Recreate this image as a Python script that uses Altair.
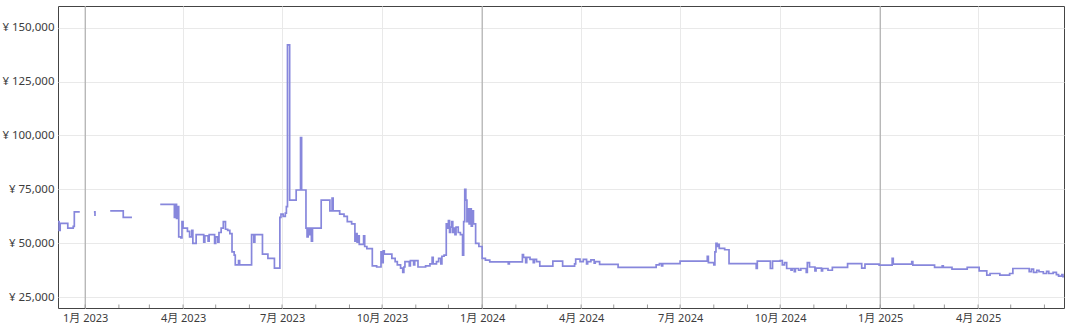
import altair as alt
import pandas as pd

# ---- price history (None marks a gap in the data) ----
dates = [
    "2022-12-07", "2022-12-08", "2022-12-09", "2022-12-16", "2022-12-21", "2022-12-22", "2022-12-27", "2022-12-28",
    "2023-01-09", "2023-01-10", "2023-01-11",
    "2023-01-24", "2023-02-05", "2023-02-13", "2023-02-14",
    "2023-03-11", "2023-03-24", "2023-03-25", "2023-03-26", "2023-03-27", "2023-03-28", "2023-03-30", "2023-03-31",
    "2023-04-01", "2023-04-05", "2023-04-07", "2023-04-09", "2023-04-10", "2023-04-13", "2023-04-20", "2023-04-21",
    "2023-04-24", "2023-04-25", "2023-04-30", "2023-05-01", "2023-05-03", "2023-05-04", "2023-05-06", "2023-05-08",
    "2023-05-10", "2023-05-12", "2023-05-14", "2023-05-16", "2023-05-18", "2023-05-19", "2023-05-22", "2023-05-23",
    "2023-06-03", "2023-06-05", "2023-06-06", "2023-06-13", "2023-06-18", "2023-06-24", "2023-06-29", "2023-06-30",
    "2023-07-02", "2023-07-04", "2023-07-05", "2023-07-06", "2023-07-08", "2023-07-14",
    "2023-07-18", "2023-07-19", "2023-07-23", "2023-07-24", "2023-07-25", "2023-07-26", "2023-07-27", "2023-07-28",
    "2023-07-29", "2023-08-06", "2023-08-14", "2023-08-16", "2023-08-17", "2023-08-23", "2023-08-27", "2023-08-30",
    "2023-09-03", "2023-09-06", "2023-09-07", "2023-09-08", "2023-09-09", "2023-09-10", "2023-09-14", "2023-09-15",
    "2023-09-17", "2023-09-22", "2023-09-26", "2023-09-30", "2023-10-01", "2023-10-02", "2023-10-03", "2023-10-10",
    "2023-10-13", "2023-10-15", "2023-10-18", "2023-10-20", "2023-10-21", "2023-10-22", "2023-10-26", "2023-10-27",
    "2023-10-30", "2023-10-31", "2023-11-03", "2023-11-10", "2023-11-14", "2023-11-16", "2023-11-17", "2023-11-20",
    "2023-11-22", "2023-11-24", "2023-11-25", "2023-11-27", "2023-11-29", "2023-11-30", "2023-12-01", "2023-12-02",
    "2023-12-03", "2023-12-04", "2023-12-05", "2023-12-06", "2023-12-07", "2023-12-08", "2023-12-10", "2023-12-12",
    "2023-12-14", "2023-12-15", "2023-12-16", "2023-12-17", "2023-12-18", "2023-12-19", "2023-12-20", "2023-12-21",
    "2023-12-22", "2023-12-23", "2023-12-24", "2023-12-26", "2023-12-29",
    "2024-01-01", "2024-01-04", "2024-01-08", "2024-01-25", "2024-01-26", "2024-02-07", "2024-02-08", "2024-02-10",
    "2024-02-11", "2024-02-14", "2024-02-17", "2024-02-18", "2024-02-20", "2024-02-23", "2024-03-06", "2024-03-15",
    "2024-03-26", "2024-03-27", "2024-03-31", "2024-04-03", "2024-04-06", "2024-04-07", "2024-04-10", "2024-04-13",
    "2024-04-14", "2024-04-18", "2024-05-05", "2024-06-09", "2024-06-12", "2024-06-14", "2024-06-15", "2024-07-01",
    "2024-07-26", "2024-07-27", "2024-08-01", "2024-08-02", "2024-08-03", "2024-08-04", "2024-08-05", "2024-08-06",
    "2024-08-11", "2024-08-15", "2024-09-09", "2024-09-10", "2024-09-22", "2024-09-24", "2024-10-01", "2024-10-03",
    "2024-10-05", "2024-10-07", "2024-10-11", "2024-10-12", "2024-10-14", "2024-10-15", "2024-10-18", "2024-10-20",
    "2024-10-25", "2024-10-26", "2024-10-28", "2024-11-02", "2024-11-03", "2024-11-08", "2024-11-09", "2024-11-14",
    "2024-11-18", "2024-12-02", "2024-12-15", "2024-12-18", "2024-12-31",
    "2025-01-12", "2025-01-13", "2025-01-30", "2025-01-31", "2025-02-20", "2025-02-27", "2025-02-28", "2025-03-08",
    "2025-03-22", "2025-04-02", "2025-04-09", "2025-04-12", "2025-04-21", "2025-04-30", "2025-05-03", "2025-05-18",
    "2025-05-20", "2025-05-22", "2025-05-25", "2025-05-27", "2025-05-31", "2025-06-03", "2025-06-05", "2025-06-09",
    "2025-06-12", "2025-06-14", "2025-06-17", "2025-06-18", "2025-06-19",
]
prices = [
    60000, 56000, 59200, 57000, 57800, 64600, 64600, None,
    64600, 62600, None,
    65000, 62000, 62000, None,
    68000, 62000, 68000, 61500, 67000, 53000, 52500, 60000,
    57000, 55500, 53000, 56000, 50000, 54000, 50500, 53500,
    51000, 54000, 50000, 53000, 50500, 55000, 57000, 60000,
    56500, 56000, 54500, 46000, 44500, 40000, 42000, 40000,
    54000, 50500, 54000, 45000, 43000, 38500, 62000, 63500,
    62500, 64000, 67000, 142000, 70000, 74700,
    99000, 74700, 57000, 53000, 57000, 54000, 57000, 51000,
    57000, 70000, 65000, 71000, 65000, 63500, 62500, 60000,
    59000, 51000, 54500, 50500, 53500, 49500, 53500, 48500,
    47500, 39500, 39000, 46000, 41000, 46500, 45000, 43000,
    41500, 40000, 38500, 36500, 39000, 41500, 39500, 42000,
    40000, 42000, 39000, 39500, 40500, 43500, 40500, 41500,
    43000, 40500, 44000, 44500, 59000, 57000, 60500, 55000,
    57500, 60000, 55000, 57000, 54000, 57500, 55000, 54000,
    44500, 60000, 75000, 70000, 60000, 66000, 59000, 66000,
    58000, 65000, 59000, 50000, 48500,
    43000, 42200, 41400, 40500, 41400, 44800, 43500, 41000,
    43500, 42500, 41000, 42500, 41500, 39400, 41700, 39400,
    40500, 42700, 41500, 42500, 40500, 41500, 42300, 40800,
    41500, 40200, 38800, 40000, 40600, 39500, 40600, 41700,
    44000, 41000, 40000, 46000, 50000, 48500, 49500, 47600,
    47000, 40600, 38300, 41700, 38300, 41700, 42000, 40000,
    41000, 38300, 37500, 38300, 36800, 38300, 37500, 38300,
    36500, 41000, 39000, 37200, 38500, 37200, 38300, 37500,
    38800, 40600, 38500, 40300, 39900,
    43000, 40300, 41500, 39900, 38800, 39500, 38800, 38000,
    38800, 37200, 35200, 36000, 35200, 36000, 38300, 36800,
    38000, 36500, 37500, 36800, 36000, 37000, 36000, 36500,
    35500, 34800, 35500, 34500, 34500,
]

# ---- axis values ----
year_lines = ["2023-01-01", "2024-01-01", "2025-01-01"]
quarter_ticks = [(2023, 1), (2023, 4), (2023, 7), (2023, 10), (2024, 1), (2024, 4),
                 (2024, 7), (2024, 10), (2025, 1), (2025, 4)]
month_ticks = [f"{y}-{m:02d}-01" for y in (2023, 2024, 2025) for m in range(1, 13)
               if not (y == 2025 and m > 6)]
y_ticks = [25000, 50000, 75000, 100000, 125000, 150000]

# build segments (a None breaks the line)
rows, seg = [], 0
for d, p in zip(dates, prices):
    if p is None:
        seg += 1
        continue
    rows.append({"date": d, "price": p, "seg": seg})
df = pd.DataFrame(rows)

W, H = 1006, 302
FONT = "Noto Sans, Noto Sans CJK JP"

x_enc = alt.X(
    "date:T",
    scale=alt.Scale(type="utc",
                    domain=[alt.DateTime(year=2022, month=12, date=7, utc=True),
                            alt.DateTime(year=2025, month=6, date=19, utc=True)]),
    axis=alt.Axis(
        values=[alt.DateTime(year=y, month=m, date=1, utc=True) for y, m in quarter_ticks],
        labelExpr="(utcmonth(datum.value) + 1) + '月 ' + utcyear(datum.value)",
        title=None, domain=False, ticks=False, labelPadding=4,
        grid=True, gridColor="#e9e9e9", labelFlush=False,
    ),
)

years = alt.Chart(pd.DataFrame({"date": year_lines})).mark_rule(
    color="#a3a3a3", strokeWidth=1
).encode(x=x_enc)

mticks = alt.Chart(pd.DataFrame({"date": month_ticks})).mark_rule(
    color="#9a9a9a", strokeWidth=1
).encode(x=x_enc, y=alt.value(H - 3.5), y2=alt.value(H))

line = alt.Chart(df).mark_line(
    interpolate="step-after", color="#8787dc", strokeWidth=1.7, clip=True
).encode(
    x=x_enc,
    y=alt.Y(
        "price:Q",
        scale=alt.Scale(domain=[20000, 160000], nice=False, zero=False),
        axis=alt.Axis(
            values=y_ticks, title=None, domain=False, ticks=False, labelPadding=4,
            labelFontSize=11.5,
            labelExpr="'¥ ' + format(datum.value, ',')", grid=True, gridColor="#e9e9e9",
        ),
    ),
    detail="seg:N",
)

chart = alt.layer(years, mticks, line).properties(
    width=W, height=H,
    padding={"left": 58, "top": 6, "right": 2, "bottom": 17},
    autosize=alt.AutoSizeParams(type="none"),
    background="white",
).configure_view(
    stroke="#444444", strokeWidth=1
).configure_axis(
    labelFont=FONT, labelFontSize=11, labelColor="#3c3c3c",
)

chart.save("out.html", embed_options={"renderer": "svg", "actions": False})
